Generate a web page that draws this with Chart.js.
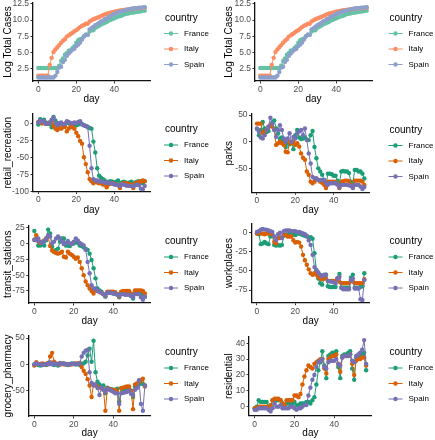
<!DOCTYPE html>
<html>
<head>
<meta charset="utf-8">
<script src="https://cdn.jsdelivr.net/npm/chart.js@4.4.1/dist/chart.umd.min.js"></script>
<style>
  html, body { margin: 0; padding: 0; background: #fff; }
  #wrap { position: relative; width: 435px; height: 440px; overflow: hidden; }
  #wrap canvas { position: absolute; }
</style>
</head>
<body>
<div id="wrap"></div>
<script>
// ---- data ----
const countries = ['France', 'Italy', 'Spain'];
const legendTitle = 'country';
const xTitle = 'day';
const days = [0, 1, 2, 3, 4, 5, 6, 7, 8, 9, 10, 11, 12, 13, 14, 15, 16, 17, 18, 19,
  20, 21, 22, 23, 24, 25, 26, 27, 28, 29, 30, 31, 32, 33, 34, 35, 36, 37, 38, 39,
  40, 41, 42, 43, 44, 45, 46, 47, 48, 49, 50, 51, 52, 53, 54, 55, 56];
const dayTicks = [0, 20, 40];

const casesFrance = [2.56, 2.56, 2.56, 2.56, 2.56, 2.56, 2.56, 2.56, 2.56, 2.56,
  2.56, 2.94, 3.66, 4.06, 4.62, 4.88, 5.26, 5.32, 5.67, 5.94,
  6.49, 6.87, 7.04, 7.11, 7.49, 7.74, 7.74, 8.21, 8.41, 8.42,
  8.81, 8.95, 9.12, 9.30, 9.45, 9.58, 9.70, 9.91, 10.03, 10.15,
  10.29, 10.42, 10.55, 10.61, 10.72, 10.87, 10.96, 11.00, 11.09, 11.15,
  11.18, 11.23, 11.28, 11.33, 11.38, 11.43, 11.46];
const casesItaly = [1.39, 1.39, 1.39, 1.39, 1.39, 1.39, 3.04, 4.14, 5.05, 5.44,
  5.78, 6.12, 6.49, 6.79, 7.03, 7.44, 7.62, 7.83, 8.04, 8.26,
  8.44, 8.68, 8.91, 9.12, 9.23, 9.43, 9.43, 9.78, 9.96, 10.12,
  10.24, 10.36, 10.48, 10.62, 10.76, 10.89, 10.99, 11.07, 11.14, 11.22,
  11.30, 11.37, 11.43, 11.49, 11.53, 11.57, 11.61, 11.65, 11.69, 11.73,
  11.77, 11.79, 11.82, 11.85, 11.87, 11.90, 11.93];
const casesSpain = [1.10, 1.10, 1.10, 1.10, 1.10, 1.10, 1.10, 1.10, 1.10, 1.39,
  1.95, 2.64, 2.77, 3.50, 3.83, 4.44, 4.80, 5.11, 5.41, 5.56,
  5.99, 6.22, 6.51, 6.98, 7.44, 7.73, 7.73, 8.56, 8.76, 8.96,
  9.20, 9.37, 9.54, 9.80, 9.92, 10.14, 10.26, 10.47, 10.59, 10.81,
  10.96, 11.09, 11.20, 11.29, 11.38, 11.47, 11.55, 11.63, 11.69, 11.75,
  11.79, 11.83, 11.86, 11.91, 11.94, 11.97, 12.00];

const retailFrance = [-2, 6, 0, 5, 1, 0, -1, -6, 9, 4,
  0, -1, 0, -2, -1, 2, 0, -1, -2, -1,
  -3, -2, 0, -1, -3, -4, -5, -7, -8, -27,
  -43, -66, -77, -80, -82, -84, -88, -86, -85, -86,
  -87, -86, -84, -90, -87, -86, -87, -88, -87, -86,
  -89, -87, -86, -85, -86, -88, -85];
const retailItaly = [2, 3, 0, 2, -1, 0, 1, 3, -4, -8,
  -10, -7, -8, -6, -5, -12, -8, -5, -6, -8,
  -14, -19, -26, -30, -50, -60, -72, -82, -85, -88,
  -86, -87, -88, -88, -90, -90, -94, -90, -88, -88,
  -89, -90, -91, -95, -89, -88, -88, -89, -89, -91,
  -95, -88, -87, -86, -86, -84, -85];
const retailSpain = [1, 4, 2, 3, -1, 0, 1, 5, 8, 0,
  -3, 0, 1, -2, -1, 3, 2, 0, 0, 1,
  0, 2, 3, -2, -3, -4, -6, -33, -66, -82,
  -84, -84, -86, -85, -86, -87, -88, -87, -88, -89,
  -90, -90, -91, -92, -90, -90, -91, -92, -92, -92,
  -93, -91, -90, -91, -96, -97, -92];

const parksFrance = [24, 12, 22, 37, 25, 18, 20, 30, 36, 40,
  25, 16, 5, 8, 2, -10, -3, -5, 0, -14,
  12, 22, 8, 5, 6, 8, 4, 3, 12, 20,
  -10, -31, -50, -56, -62, -72, -81, -60, -60, -61,
  -64, -64, -73, -78, -56, -55, -56, -56, -59, -75,
  -78, -53, -53, -56, -56, -60, -69];
const parksItaly = [34, 34, 34, 16, 19, 22, 28, 31, 28, 23,
  -6, -3, 0, -3, -6, -19, -20, 0, -3, 0,
  -6, -3, -9, -22, -30, -34, -56, -62, -75, -78,
  -75, -69, -72, -75, -77, -81, -87, -75, -75, -75,
  -75, -76, -81, -87, -75, -74, -73, -73, -74, -81,
  -86, -73, -73, -73, -73, -75, -81];
const parksSpain = [25, 19, 8, 6, 12, 22, 28, 45, 34, 22,
  9, 22, 31, 22, 6, 0, 6, 16, 0, 9,
  6, 16, 19, 22, 12, 25, 3, -22, -41, -66,
  -69, -69, -72, -72, -72, -72, -78, -81, -78, -78,
  -78, -78, -80, -86, -81, -81, -81, -81, -82, -83,
  -87, -81, -81, -81, -84, -89, -85];

const transitFrance = [20, 8, -3, -3, -1, -3, 5, 22, 16, -5,
  -13, -10, -8, 3, 8, 8, -3, -3, -4, 0,
  0, 4, 1, -3, -4, -6, -8, -10, -16, -26,
  -39, -55, -71, -74, -76, -80, -84, -78, -77, -78,
  -79, -79, -80, -85, -79, -78, -78, -78, -79, -83,
  -87, -78, -78, -78, -79, -80, -84];
const transitItaly = [6, 13, 4, 1, 3, 5, 8, 11, -4, -11,
  -13, -15, -16, -15, -13, -21, -22, -13, -16, -18,
  -21, -24, -22, -29, -39, -50, -60, -66, -71, -75,
  -79, -74, -75, -76, -78, -80, -83, -76, -76, -76,
  -76, -77, -80, -84, -76, -75, -75, -75, -75, -79,
  -83, -74, -74, -74, -74, -75, -79];
const transitSpain = [6, 5, 8, 3, 1, 4, 8, 13, 11, 0,
  3, 8, 11, 8, 3, -1, 1, 4, 0, -1,
  3, 8, 5, 1, -1, -3, -10, -29, -47, -66,
  -71, -71, -75, -76, -78, -80, -83, -78, -77, -78,
  -79, -79, -81, -83, -80, -80, -81, -81, -81, -82,
  -85, -80, -80, -80, -85, -89, -84];

const workFrance = [-1, -2, -15, -14, -12, -14, -15, -5, -3, -16,
  -17, -16, -17, -16, -4, -3, -2, -1, -2, -2,
  -3, -1, -1, -2, -3, -4, -5, -7, -6, -8,
  -27, -49, -60, -66, -68, -60, -55, -70, -71, -71,
  -71, -71, -60, -54, -72, -72, -72, -72, -72, -59,
  -55, -72, -72, -72, -71, -70, -53];
const workItaly = [-1, 0, -1, -1, -2, -1, -1, 0, -2, -12,
  -14, -7, -7, -6, -3, -3, -5, -5, -5, -10,
  -13, -12, -13, -18, -29, -36, -42, -48, -53, -55,
  -53, -55, -58, -60, -61, -58, -60, -63, -63, -63,
  -63, -63, -60, -64, -66, -66, -66, -66, -66, -62,
  -64, -66, -66, -66, -66, -66, -61];
const workSpain = [1, 2, 4, 5, 4, 4, 3, 2, 1, -5,
  -10, -2, 0, -7, 2, 3, 3, 3, 2, 2,
  2, 1, 1, 0, -1, -2, -4, -10, -16, -29,
  -45, -49, -52, -55, -57, -55, -55, -63, -64, -64,
  -65, -66, -60, -58, -72, -74, -74, -74, -74, -62,
  -60, -73, -73, -73, -87, -88, -62];

const groceryFrance = [0, 2, -1, -2, -1, 0, -1, 3, 2, 1,
  -1, 0, -2, 0, 1, 2, 0, -1, 0, 2,
  1, 0, 1, -1, 1, 2, 5, 17, 30, 5,
  45, -15, -33, -38, -42, -40, -55, -44, -46, -47,
  -48, -50, -46, -70, -45, -47, -48, -47, -46, -50,
  -62, -42, -40, -38, -36, -37, -40];
const groceryItaly = [-2, 4, 1, 1, 2, 1, 0, 3, 15, 22,
  5, 2, 1, 0, 2, 0, 1, 0, 1, 0,
  1, 2, 2, 3, -5, -12, -18, -28, -40, -62,
  -38, -40, -42, -44, -45, -48, -88, -45, -47, -48,
  -49, -48, -52, -88, -45, -44, -43, -42, -42, -50,
  -85, -38, -36, -34, -30, -27, -42];
const grocerySpain = [0, 2, 1, 0, -1, 0, 1, 0, 4, 0,
  2, 1, 0, 3, 1, 2, 0, 1, 0, 1,
  2, 0, 1, 2, 15, 22, 26, 28, -15, -35,
  -40, -38, -45, -58, -44, -48, -52, -46, -48, -50,
  -52, -55, -55, -75, -55, -54, -53, -52, -50, -56,
  -58, -48, -45, -30, -75, -88, -40];

const resFrance = [-1, 0, 4, 3, 3, 3, 3, 0, 1, 4,
  4, 4, 4, 4, 2, 1, 2, 2, 2, 2,
  3, 1, 1, 2, 2, 2, 3, 3, 2, 4,
  6, 14, 23, 28, 35, 26, 18, 32, 33, 34,
  34, 35, 25, 18, 32, 33, 33, 34, 35, 24,
  17, 31, 31, 32, 33, 34, 23];
const resItaly = [-1, -1, 0, 0, 0, 0, 0, -1, 1, 4,
  5, 5, 5, 4, 2, 1, 4, 4, 4, 4,
  7, 7, 6, 8, 14, 19, 23, 26, 25, 24,
  27, 28, 29, 30, 30, 24, 21, 30, 31, 32,
  32, 33, 27, 22, 31, 32, 32, 32, 33, 27,
  20, 29, 30, 30, 31, 31, 26];
const resSpain = [-2, -2, -1, -1, -1, -1, -1, -2, -3, -1,
  2, 0, 0, 1, -1, -1, -1, -1, 0, 0,
  -1, -2, -1, -1, 0, 1, 1, 7, 12, 17,
  20, 25, 28, 29, 30, 25, 24, 28, 29, 29,
  29, 30, 27, 26, 31, 32, 32, 32, 33, 29,
  28, 32, 33, 34, 36, 42, 27];

const casesTicks = [2.5, 5, 7.5, 10, 12.5];
const retailTicks = [0, -25, -50, -75, -100];
const parksTicks = [50, 0, -50];
const transitTicks = [25, 0, -25, -50, -75];
const workTicks = [0, -25, -50, -75];
const groceryTicks = [50, 0, -50];
const resTicks = [0, 10, 20, 30, 40];

// ---- styles ----
const set2 = ['#66C2A5', '#FC8D62', '#8DA0CB'];
const dark2 = ['#1B9E77', '#D95F02', '#7570B3'];
const fontFamily = '"Liberation Sans", Arial, Helvetica, sans-serif';
Chart.defaults.font.family = fontFamily;

// ggplot-like legend drawn at the right of each panel
const ggLegend = {
  id: 'ggLegend',
  afterDraw(chart, args, opts) {
    const ctx = chart.ctx;
    ctx.save();
    ctx.textBaseline = 'middle';
    ctx.textAlign = 'left';
    ctx.fillStyle = '#000';
    ctx.font = '10px ' + fontFamily;
    ctx.fillText(legendTitle, opts.x + 1, opts.y);
    ctx.font = '8px ' + fontFamily;
    countries.forEach((name, i) => {
      const yy = opts.y + 15.5 * (i + 1);
      ctx.strokeStyle = opts.colors[i];
      ctx.lineWidth = 1;
      ctx.beginPath();
      ctx.moveTo(opts.x, yy);
      ctx.lineTo(opts.x + 14, yy);
      ctx.stroke();
      ctx.fillStyle = opts.colors[i];
      ctx.beginPath();
      ctx.arc(opts.x + 7, yy, 2.2, 0, Math.PI * 2);
      ctx.fill();
      ctx.fillStyle = '#000';
      ctx.fillText(name, opts.x + 20, yy);
    });
    ctx.restore();
  }
};

// panel layout: plot area (canvas coords), y range, legend title y
const panels = [
  { title: 'Log Total Cases', col: 0, row: 0, series: [casesFrance, casesItaly, casesSpain], palette: set2,
    yMin: 0.55, yMax: 12.65, yTicks: casesTicks, decimals: 1, area: { left: 33, right: 150, top: 3, bottom: 81 }, legendY: 18 },
  { title: 'Log Total Cases', col: 1, row: 0, series: [casesFrance, casesItaly, casesSpain], palette: set2,
    yMin: 0.55, yMax: 12.65, yTicks: casesTicks, decimals: 1, area: { left: 38, right: 155, top: 3, bottom: 81 }, legendY: 18 },
  { title: 'retail_recreation', col: 0, row: 1, series: [retailFrance, retailItaly, retailSpain], palette: dark2,
    yMin: -100.2, yMax: 13.5, yTicks: retailTicks, decimals: 0, area: { left: 33, right: 150, top: 4, bottom: 81.5 }, legendY: 19.5 },
  { title: 'parks', col: 1, row: 1, series: [parksFrance, parksItaly, parksSpain], palette: dark2,
    yMin: -95, yMax: 52, yTicks: parksTicks, decimals: 0, area: { left: 34.6, right: 152.7, top: 4, bottom: 82.3 }, legendY: 20 },
  { title: 'transit_stations', col: 0, row: 2, series: [transitFrance, transitItaly, transitSpain], palette: dark2,
    yMin: -94, yMax: 28.5, yTicks: transitTicks, decimals: 0, area: { left: 28.8, right: 150.4, top: 5.5, bottom: 83 }, legendY: 21.5 },
  { title: 'workplaces', col: 1, row: 2, series: [workFrance, workItaly, workSpain], palette: dark2,
    yMin: -91.6, yMax: 12, yTicks: workTicks, decimals: 0, area: { left: 34.6, right: 152.7, top: 3.5, bottom: 82.7 }, legendY: 21.5 },
  { title: 'grocery_pharmacy', col: 0, row: 3, series: [groceryFrance, groceryItaly, grocerySpain], palette: dark2,
    yMin: -98, yMax: 54, yTicks: groceryTicks, decimals: 0, area: { left: 28.8, right: 150.4, top: 6, bottom: 86 }, legendY: 22.5 },
  { title: 'residential', col: 1, row: 3, series: [resFrance, resItaly, resSpain], palette: dark2,
    yMin: -5.7, yMax: 44.2, yTicks: resTicks, decimals: 0, area: { left: 32.1, right: 154.7, top: 6.6, bottom: 85.7 }, legendY: 22.5 }
];

const dayTitlePad = [4.5, 3.5, 2.5, 0.5];

function drawPanel(p) {
  const w = p.col === 0 ? 217 : 218;
  const h = 110;
  const a = p.area;
  const canvas = document.createElement('canvas');
  canvas.width = w;
  canvas.height = h;
  canvas.style.left = (p.col * 217) + 'px';
  canvas.style.top = (p.row * 110) + 'px';
  document.getElementById('wrap').appendChild(canvas);

  const axisGrid = { drawOnChartArea: false, tickLength: 2.5, tickColor: '#333', lineWidth: 1 };
  const axisBorder = { display: true, color: '#111', width: 1.3 };
  const tickFont = { size: 8.5 };

  new Chart(canvas, {
    type: 'line',
    data: {
      labels: days,
      datasets: countries.map((name, i) => ({
        label: name,
        data: p.series[i],
        borderColor: p.palette[i],
        backgroundColor: p.palette[i],
        pointBackgroundColor: p.palette[i],
        pointBorderWidth: 0,
        pointRadius: 2.2,
        pointHoverRadius: 2.2,
        borderWidth: 1,
        tension: 0,
        order: 2 - i
      }))
    },
    options: {
      responsive: false,
      animation: false,
      devicePixelRatio: 1,
      events: [],
      layout: { padding: { left: 0, top: a.top, right: w - a.right, bottom: 0 } },
      plugins: {
        legend: { display: false },
        tooltip: { enabled: false },
        ggLegend: { x: p.col === 0 ? 164 : 171.5, y: p.legendY, colors: p.palette }
      },
      scales: {
        x: {
          type: 'linear',
          min: -2.8,
          max: 58.8,
          afterBuildTicks: s => { s.ticks = dayTicks.map(v => ({ value: v })); },
          afterFit: s => { s.height = h - a.bottom; s.paddingLeft = 0; s.paddingRight = 0; },
          grid: axisGrid,
          border: axisBorder,
          ticks: { color: '#4D4D4D', font: tickFont, padding: 1, autoSkip: false, maxRotation: 0 },
          title: { display: true, text: xTitle, color: '#000', font: { size: 10 },
                   padding: { top: 0, bottom: dayTitlePad[p.row] } }
        },
        y: {
          type: 'linear',
          min: p.yMin,
          max: p.yMax,
          afterBuildTicks: s => { s.ticks = p.yTicks.map(v => ({ value: v })); },
          afterFit: s => { s.width = a.left; s.paddingTop = 0; s.paddingBottom = 0; },
          grid: axisGrid,
          border: axisBorder,
          ticks: {
            color: '#4D4D4D', font: tickFont, padding: 1.5, autoSkip: false,
            callback: v => p.decimals ? Number(v).toFixed(p.decimals) : String(v)
          },
          title: { display: true, text: p.title, color: '#000', font: { size: 10 },
                   padding: { top: p.col === 0 ? 2 : 6, bottom: 0 } }
        }
      }
    },
    plugins: [ggLegend]
  });
}

panels.forEach(drawPanel);
</script>
</body>
</html>
